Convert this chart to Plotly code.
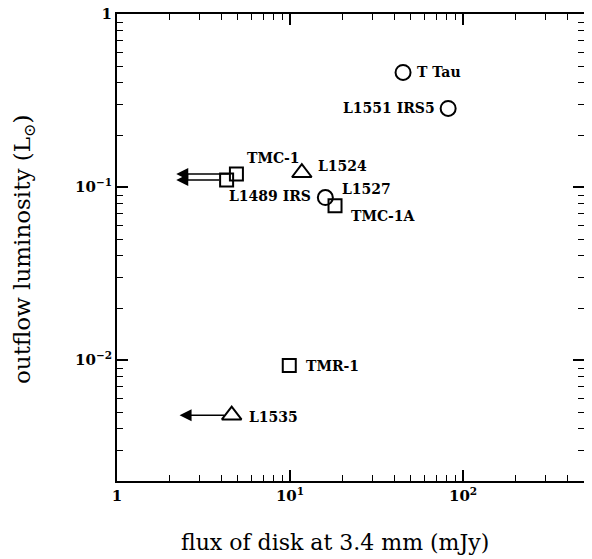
import numpy as np
import plotly.graph_objects as go

# ---- data ----
circle_names = ["T Tau", "L1551 IRS5", "L1527"]
circle_flux = [45.0, 82.0, 16.0]
circle_lum = [0.46, 0.285, 0.087]

square_names = ["TMC-1", "L1489 IRS", "TMC-1A", "TMR-1"]
square_flux = [4.9, 4.3, 18.2, 9.9]
square_lum = [0.119, 0.110, 0.078, 0.0093]

triangle_names = ["L1524", "L1535"]
triangle_flux = [11.7, 4.6]
triangle_lum = [0.121, 0.0048]

# upper limits (arrow from source to limit)
limit_names = ["TMC-1", "L1489 IRS", "L1535"]
limit_from = [4.9, 4.3, 4.6]
limit_to = [2.2, 2.2, 2.3]
limit_lum = [0.119, 0.110, 0.0048]

x_major = [1, 10, 100]
x_major_text = ["<b>1</b>", "<b>10<sup>1</sup></b>", "<b>10<sup>2</sup></b>"]
y_major = [1, 0.1, 0.01]
y_major_text = ["<b>1</b>", "<b>10<sup>\u22121</sup></b>", "<b>10<sup>\u22122</sup></b>"]

# label offsets (pixels) : name -> (xanchor, xshift, yshift)
label_pos = {
    "T Tau": ("left", 12, 0),
    "L1551 IRS5": ("right", -11, 0),
    "L1527": ("left", 15, 9),
    "TMC-1": ("left", 9, 16),
    "L1489 IRS": ("left", 0, -16),
    "TMC-1A": ("left", 14, -10),
    "TMR-1": ("left", 15, 0),
    "L1524": ("left", 14, 7),
    "L1535": ("left", 15, -2),
}

FONT = "DejaVu Serif"
XR = [0, np.log10(500)]
YR = [np.log10(0.002), 0.0005]

fig = go.Figure()
fig.add_trace(go.Scatter(x=circle_flux, y=circle_lum, mode="markers",
                         marker=dict(symbol="circle-open", size=15, color="black",
                                     line=dict(color="black", width=2))))
fig.add_trace(go.Scatter(x=square_flux, y=square_lum, mode="markers",
                         marker=dict(symbol="square-open", size=13, color="black",
                                     line=dict(color="black", width=2))))
fig.add_trace(go.Scatter(x=triangle_flux, y=triangle_lum, mode="markers",
                         marker=dict(symbol="triangle-up-open", size=17, color="black",
                                     line=dict(color="black", width=2))))

# arrows for upper limits
for x0, x1, yv in zip(limit_from, limit_to, limit_lum):
    fig.add_annotation(x=np.log10(x1), y=np.log10(yv), ax=np.log10(x0) - 0.035, ay=np.log10(yv),
                       xref="x", yref="y", axref="x", ayref="y", text="",
                       showarrow=True, arrowhead=2, arrowsize=1.6, arrowwidth=1.5,
                       arrowcolor="black", standoff=0, startstandoff=0)

# labels
all_names = circle_names + square_names + triangle_names
all_x = circle_flux + square_flux + triangle_flux
all_y = circle_lum + square_lum + triangle_lum
for n, xv, yv in zip(all_names, all_x, all_y):
    xa, xs, ys = label_pos[n]
    fig.add_annotation(x=np.log10(xv), y=np.log10(yv), xref="x", yref="y",
                       text="<b>" + n + "</b>", showarrow=False,
                       xanchor=xa, yanchor="middle", xshift=xs, yshift=ys,
                       font=dict(family=FONT, size=14, color="black"))

base = dict(type="log", showgrid=False, zeroline=False, showline=True,
            linecolor="black", linewidth=2, mirror="ticks",
            ticks="inside", tickcolor="black", ticklen=11, tickwidth=1.6,
            ticklabeloverflow="allow", automargin=False,
            minor=dict(ticks="inside", ticklen=6, tickwidth=1.3, tickcolor="black",
                       showgrid=False, tickmode="linear", dtick="D1"),
            tickfont=dict(family=FONT, size=15, color="black"))

fig.update_xaxes(range=XR, tickmode="array", tickvals=x_major, ticktext=x_major_text, **base)
fig.update_yaxes(range=YR, tickmode="array", tickvals=y_major, ticktext=y_major_text, **base)

fig.add_annotation(text="flux of disk at 3.4 mm (mJy)", xref="paper", yref="paper",
                   x=(335 - 117) / 467, y=(473 - 533) / 459, xanchor="center", yanchor="middle",
                   showarrow=False, font=dict(family=FONT, size=22, color="black"))
fig.add_annotation(text="outflow luminosity (L<sub>\u2299</sub>)", xref="paper", yref="paper",
                   x=(24 - 117) / 467, y=(473 - 245) / 459, xanchor="center", yanchor="middle",
                   showarrow=False, textangle=-90,
                   font=dict(family=FONT, size=23, color="black"))

# page body has an 8px margin: shrink figure and margins accordingly
fig.update_layout(width=584, height=551, showlegend=False,
                  margin=dict(l=109, r=8, t=6, b=78),
                  plot_bgcolor="white", paper_bgcolor="white")

fig.write_html("out.html")
